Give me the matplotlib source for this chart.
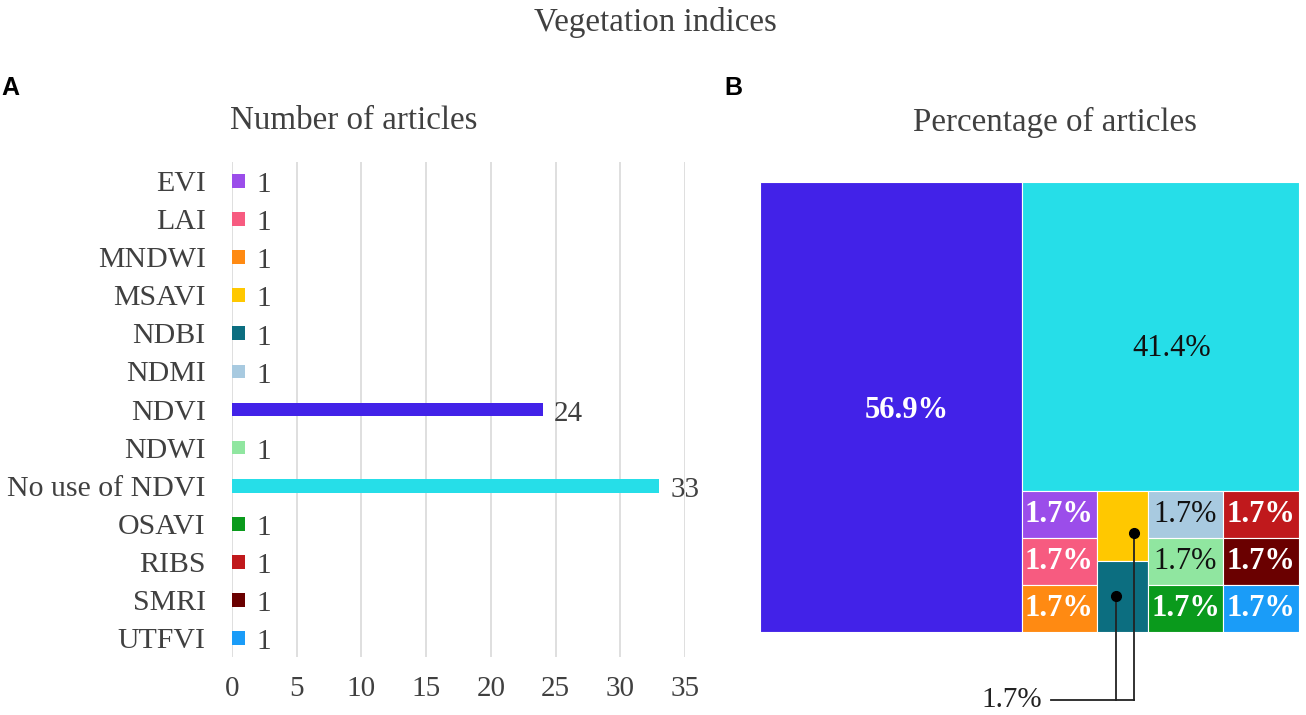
import matplotlib
matplotlib.use("Agg")
import matplotlib.pyplot as plt
from matplotlib.patches import Rectangle

# ---------------- data ----------------
categories = ['EVI', 'LAI', 'MNDWI', 'MSAVI', 'NDBI', 'NDMI', 'NDVI', 'NDWI',
              'No use of NDVI', 'OSAVI', 'RIBS', 'SMRI', 'UTFVI']
counts = [1, 1, 1, 1, 1, 1, 24, 1, 33, 1, 1, 1, 1]
bar_colors = ['#9B4DEA', '#F75B80', '#FF8A12', '#FFC800', '#0C6E80', '#A8CAE0',
              '#4222E8', '#90E6A0', '#26DEE8', '#0A9A1C', '#C0191C', '#6A0000', '#1A9CF8']
x_ticks = [0, 5, 10, 15, 20, 25, 30, 35]

# treemap (as in the figure)
tm_names = ['No use of NDVI', 'NDVI', 'EVI', 'LAI', 'MNDWI', 'MSAVI', 'NDBI',
            'NDMI', 'NDWI', 'OSAVI', 'RIBS', 'SMRI', 'UTFVI']
tm_values = [33, 24, 1, 1, 1, 1, 1, 1, 1, 1, 1, 1, 1]
tm_pct = ['56.9%', '41.4%', '1.7%', '1.7%', '1.7%', '1.7%', '1.7%',
          '1.7%', '1.7%', '1.7%', '1.7%', '1.7%', '1.7%']
tm_colors = ['#4222E8', '#26DEE8', '#9B4DEA', '#F75B80', '#FF8A12', '#FFC800', '#0C6E80',
             '#A8CAE0', '#90E6A0', '#0A9A1C', '#C0191C', '#6A0000', '#1A9CF8']
tm_dark_text = [False, True, False, False, False, False, False,
                True, True, False, False, False, False]
tm_callout = ['MSAVI', 'NDBI']
small_groups = [3, 2, 3, 3]   # number of small tiles per column

# ---------------- style ----------------
SERIF = ['Liberation Serif', 'DejaVu Serif']
GREY = '#404040'
W, H = 1306, 715
fig = plt.figure(figsize=(W / 100, H / 100), dpi=100)

def fx(px):
    return px / W

def fy(py):
    return 1 - py / H

fig.text(fx(655), fy(22), 'Vegetation indices', ha='center', va='center',
         family=SERIF, fontsize=23.8, color=GREY)
fig.text(fx(1), fy(88), 'A', ha='left', va='center', family='Liberation Sans',
         fontweight='bold', fontsize=18, color='black')
fig.text(fx(724), fy(88), 'B', ha='left', va='center', family='Liberation Sans',
         fontweight='bold', fontsize=18, color='black')
fig.text(fx(354), fy(121), 'Number of articles', ha='center', va='center',
         family=SERIF, fontsize=23.8, color=GREY)
fig.text(fx(1055), fy(122), 'Percentage of articles', ha='center', va='center',
         family=SERIF, fontsize=23.8, color=GREY)

# ---------------- panel A: bar chart ----------------
ax1 = fig.add_axes([fx(232), fy(657), (685 - 232) / W, (657 - 162) / H])
ypos = list(range(len(categories)))
bars = ax1.barh(ypos, counts, height=0.36, color=bar_colors, zorder=3)
ax1.set_ylim(len(categories) - 0.5, -0.5)
ax1.set_xlim(x_ticks[0], x_ticks[-1])
ax1.set_xticks(x_ticks)
ax1.set_yticks(ypos)
ax1.set_yticklabels(categories)
for s in ax1.spines.values():
    s.set_visible(False)
ax1.xaxis.grid(True, color='#D9D9D9', linewidth=1.2)
ax1.set_axisbelow(True)
ax1.tick_params(axis='x', length=0, pad=14, labelsize=21, labelcolor=GREY)
ax1.tick_params(axis='y', length=0, pad=19, labelsize=21.5, labelcolor=GREY)
for lab in ax1.get_xticklabels() + ax1.get_yticklabels():
    lab.set_family(SERIF)
vlabels = ax1.bar_label(bars, padding=8, fontsize=21, color=GREY, family=SERIF)
for t in vlabels:
    t.xyann = (8, -3)

# ---------------- panel B: treemap ----------------
ax2 = fig.add_axes([fx(760), fy(632), (1299 - 760) / W, 450 / H])
ax2.set_xlim(0, 1)
ax2.set_ylim(1, 0)
ax2.axis('off')

total = sum(tm_values)
rects = []
# first big tile: full-height column
w1 = tm_values[0] / total
rects.append((0, 0, w1, 1))
rest = total - tm_values[0]
h2 = tm_values[1] / rest
rects.append((w1, 0, 1 - w1, h2))
# small tiles in bottom strip, arranged in columns
small_vals = tm_values[2:]
small_total = sum(small_vals)
x = w1
idx = 0
strip_y = h2
strip_h = 1 - h2
strip_w = 1 - w1
for g in small_groups:
    grp = small_vals[idx:idx + g]
    cw = strip_w * sum(grp) / small_total
    y = strip_y
    for v in grp:
        ch = strip_h * v / sum(grp)
        rects.append((x, y, cw, ch))
        y += ch
    x += cw
    idx += g

label_frac = {0: (0.56, 0.507), 1: (0.54, 0.54)}
for i, (rx, ry, rw, rh) in enumerate(rects):
    ax2.add_patch(Rectangle((rx, ry), rw, rh, facecolor=tm_colors[i],
                            edgecolor='white', linewidth=0.8))
    if tm_names[i] in tm_callout:
        continue
    fxr, fyr = label_frac.get(i, (0.5, 0.5))
    dark = tm_dark_text[i]
    ax2.text(rx + fxr * rw, ry + fyr * rh, tm_pct[i], ha='center', va='center',
             family=SERIF, fontsize=22,
             fontweight='normal' if dark else 'bold',
             color='#111111' if dark else 'white')

# callout for the two unlabeled tiles
dot_frac = {'MSAVI': (0.73, 0.6), 'NDBI': (0.37, 0.49)}
line_y = (700 - 182) / 450
xs = []
for name in tm_callout:
    i = tm_names.index(name)
    rx, ry, rw, rh = rects[i]
    dx = rx + dot_frac[name][0] * rw
    dy = ry + dot_frac[name][1] * rh
    xs.append(dx)
    ax2.plot([dx, dx], [dy, line_y], color='#222222', lw=1.3, clip_on=False, zorder=5)
    ax2.plot([dx], [dy], 'o', color='black', ms=7, clip_on=False, zorder=6)
x_end = (1051 - 760) / 539
ax2.plot([x_end, max(xs)], [line_y, line_y], color='#222222', lw=1.3, clip_on=False, zorder=5)
ax2.text((1042 - 760) / 539, line_y, tm_pct[tm_names.index(tm_callout[0])],
         ha='right', va='center', family=SERIF, fontsize=21, color='#222222')

fig.savefig('out.png', dpi=100)
